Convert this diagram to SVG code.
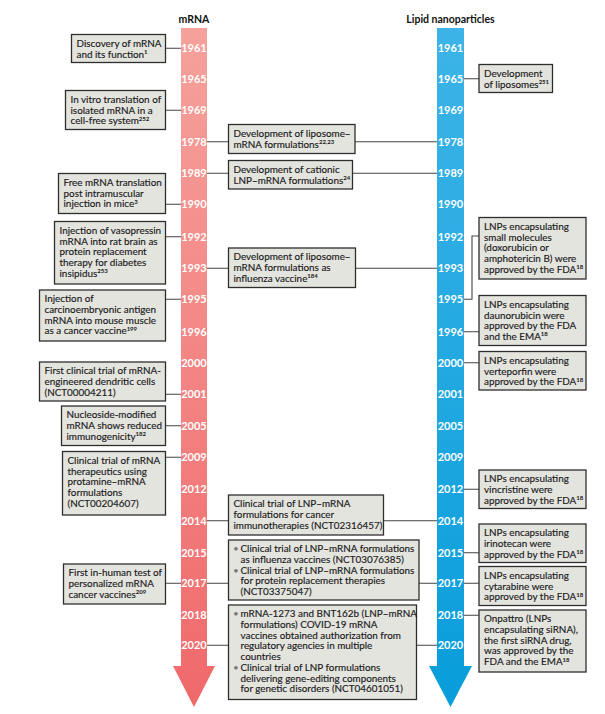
<svg xmlns="http://www.w3.org/2000/svg" width="605" height="714" viewBox="0 0 605 714">
<style>
.box{fill:#e4e4df;stroke:#2e2e2e;stroke-width:1.3}
.t{font-family:Lato,"Noto Sans",sans-serif;font-size:9.9px;fill:#1a1a1a;stroke:#1a1a1a;stroke-width:0.15}
.sup{font-size:6px;font-weight:bold;stroke-width:0}
.bul{fill:#7a7a7a;stroke:none}
.yr{font-family:Lato,"Noto Sans",sans-serif;font-weight:bold;font-size:11px;fill:#fff;text-anchor:middle}
.hd{font-family:Lato,"Noto Sans",sans-serif;font-weight:bold;font-size:10.5px;fill:#111;text-anchor:middle}
.c{stroke:#444;stroke-width:1.1;fill:none}
</style>
<defs>
<linearGradient id="gr" x1="0" y1="0" x2="0" y2="1"><stop offset="0" stop-color="#f6a19c"/><stop offset="1" stop-color="#f0696b"/></linearGradient>
<linearGradient id="gb" x1="0" y1="0" x2="0" y2="1"><stop offset="0" stop-color="#3db4e7"/><stop offset="1" stop-color="#089ddb"/></linearGradient>
</defs>
<rect width="605" height="714" fill="#fff"/>
<text class="hd" x="194" y="23">mRNA</text>
<text class="hd" x="450.5" y="23">Lipid nanoparticles</text>
<g id="bar-mrna"><path d="M181,28 H207 V666 H215 L194,707 L173,666 H181 Z" fill="url(#gr)"/></g>
<g id="bar-lnp"><path d="M437,28 H464 V666 H472 L450.5,707 L429,666 H437 Z" fill="url(#gb)"/></g>
<g id="connectors">
<path class="c" d="M166,48.3H181 M166,110.3H181 M166,204.3H181 M166,236.7H181 M166,299.3H181 M166,394.3H181 M166,425.7H181 M166,457.3H181 M166,583.3H181"/>
<path class="c" d="M207,141.7H228.5 M355,141.7H437 M207,173.3H228.5 M352.5,173.3H437 M207,268.3H228.5 M355.5,268.3H437 M207,520.7H228.5 M383.5,520.7H437 M207,583.3H228.5 M419,583.3H437 M207,645.3H228.5 M416.5,645.3H437"/>
<path class="c" d="M464,78.7H479 M464,299.3H472V236H479 M464,331.7H479 M464,362.7H479 M464,489.3H479 M464,552.7H479 M464,583.3H479 M464,615.3H479"/>
</g>
<g id="years-mrna">
<text class="yr" x="194" y="52.3">1961</text><text class="yr" x="194" y="82.7">1965</text><text class="yr" x="194" y="114.3">1969</text><text class="yr" x="194" y="145.7">1978</text><text class="yr" x="194" y="177.3">1989</text><text class="yr" x="194" y="208.3">1990</text><text class="yr" x="194" y="240.7">1992</text><text class="yr" x="194" y="272.3">1993</text><text class="yr" x="194" y="303.3">1995</text><text class="yr" x="194" y="335.7">1996</text><text class="yr" x="194" y="366.7">2000</text><text class="yr" x="194" y="398.3">2001</text><text class="yr" x="194" y="429.7">2005</text><text class="yr" x="194" y="461.3">2009</text><text class="yr" x="194" y="493.3">2012</text><text class="yr" x="194" y="524.7">2014</text><text class="yr" x="194" y="556.7">2015</text><text class="yr" x="194" y="587.3">2017</text><text class="yr" x="194" y="619.3">2018</text><text class="yr" x="194" y="649.3">2020</text>
</g>
<g id="years-lnp">
<text class="yr" x="450.5" y="52.3">1961</text><text class="yr" x="450.5" y="82.7">1965</text><text class="yr" x="450.5" y="114.3">1969</text><text class="yr" x="450.5" y="145.7">1978</text><text class="yr" x="450.5" y="177.3">1989</text><text class="yr" x="450.5" y="208.3">1990</text><text class="yr" x="450.5" y="240.7">1992</text><text class="yr" x="450.5" y="272.3">1993</text><text class="yr" x="450.5" y="303.3">1995</text><text class="yr" x="450.5" y="335.7">1996</text><text class="yr" x="450.5" y="366.7">2000</text><text class="yr" x="450.5" y="398.3">2001</text><text class="yr" x="450.5" y="429.7">2005</text><text class="yr" x="450.5" y="461.3">2009</text><text class="yr" x="450.5" y="493.3">2012</text><text class="yr" x="450.5" y="524.7">2014</text><text class="yr" x="450.5" y="556.7">2015</text><text class="yr" x="450.5" y="587.3">2017</text><text class="yr" x="450.5" y="619.3">2018</text><text class="yr" x="450.5" y="649.3">2020</text>
</g>
<g id="L1"><rect class="box" x="71.5" y="34.5" width="94" height="28"/><text class="t"><tspan x="76.5" y="46.8">Discovery of mRNA</tspan><tspan x="76.5" y="57.5">and its function</tspan><tspan class="sup" dy="-3.5">1</tspan></text></g>
<g id="L2"><rect class="box" x="65.5" y="90.5" width="100" height="39"/><text class="t"><tspan x="70.5" y="102.8">In vitro translation of</tspan><tspan x="70.5" y="113.5">isolated mRNA in a</tspan><tspan x="70.5" y="124.2">cell-free system</tspan><tspan class="sup" dy="-3.5">252</tspan></text></g>
<g id="L3"><rect class="box" x="58.5" y="173.5" width="107" height="40"/><text class="t"><tspan x="63.5" y="185.8">Free mRNA translation</tspan><tspan x="63.5" y="196.5">post intramuscular</tspan><tspan x="63.5" y="207.2">injection in mice</tspan><tspan class="sup" dy="-3.5">3</tspan></text></g>
<g id="L4"><rect class="box" x="54.5" y="221.5" width="111" height="62.5"/><text class="t"><tspan x="59.5" y="233.8">Injection of vasopressin</tspan><tspan x="59.5" y="244.5">mRNA into rat brain as</tspan><tspan x="59.5" y="255.2">protein replacement</tspan><tspan x="59.5" y="265.9">therapy for diabetes</tspan><tspan x="59.5" y="276.6">insipidus</tspan><tspan class="sup" dy="-3.5">253</tspan></text></g>
<g id="L5"><rect class="box" x="39.5" y="290" width="126" height="51"/><text class="t"><tspan x="44.5" y="302.3">Injection of</tspan><tspan x="44.5" y="313">carcinoembryonic antigen</tspan><tspan x="44.5" y="323.7">mRNA into mouse muscle</tspan><tspan x="44.5" y="334.4">as a cancer vaccine</tspan><tspan class="sup" dy="-3.5">199</tspan></text></g>
<g id="L6"><rect class="box" x="39.5" y="362" width="126" height="39"/><text class="t"><tspan x="44.5" y="374.3">First clinical trial of mRNA-</tspan><tspan x="44.5" y="385">engineered dendritic cells</tspan><tspan x="44.5" y="395.7">(NCT00004211)</tspan></text></g>
<g id="L7"><rect class="box" x="61.5" y="406" width="104" height="39.5"/><text class="t"><tspan x="66.5" y="418.3">Nucleoside-modified</tspan><tspan x="66.5" y="429">mRNA shows reduced</tspan><tspan x="66.5" y="439.7">immunogenicity</tspan><tspan class="sup" dy="-3.5">182</tspan></text></g>
<g id="L8"><rect class="box" x="62.5" y="451.5" width="103" height="63.5"/><text class="t"><tspan x="67.5" y="463.8">Clinical trial of mRNA</tspan><tspan x="67.5" y="474.5">therapeutics using</tspan><tspan x="67.5" y="485.2">protamine–mRNA</tspan><tspan x="67.5" y="495.9">formulations</tspan><tspan x="67.5" y="506.6">(NCT00204607)</tspan></text></g>
<g id="L9"><rect class="box" x="63.5" y="564" width="102" height="40"/><text class="t"><tspan x="68.5" y="576.3">First in-human test of</tspan><tspan x="68.5" y="587">personalized mRNA</tspan><tspan x="68.5" y="597.7">cancer vaccines</tspan><tspan class="sup" dy="-3.5">209</tspan></text></g>
<g id="M1"><rect class="box" x="228.5" y="124.5" width="126.5" height="29"/><text class="t"><tspan x="233.5" y="136.8">Development of liposome–</tspan><tspan x="233.5" y="147.5">mRNA formulations</tspan><tspan class="sup" dy="-3.5">22,23</tspan></text></g>
<g id="M2"><rect class="box" x="228.5" y="160.5" width="124" height="28.5"/><text class="t"><tspan x="233.5" y="172.8">Development of cationic</tspan><tspan x="233.5" y="183.5">LNP–mRNA formulations</tspan><tspan class="sup" dy="-3.5">24</tspan></text></g>
<g id="M3"><rect class="box" x="228.5" y="248" width="127" height="39.5"/><text class="t"><tspan x="233.5" y="260.3">Development of liposome–</tspan><tspan x="233.5" y="271">mRNA formulations as</tspan><tspan x="233.5" y="281.7">influenza vaccine</tspan><tspan class="sup" dy="-3.5">184</tspan></text></g>
<g id="M4"><rect class="box" x="228.5" y="495" width="155" height="40"/><text class="t"><tspan x="233.5" y="507.3">Clinical trial of LNP–mRNA</tspan><tspan x="233.5" y="518">formulations for cancer</tspan><tspan x="233.5" y="528.7">immunotherapies (NCT02316457)</tspan></text></g>
<g id="M5"><rect class="box" x="228.5" y="540" width="190.5" height="60"/><text class="t"><tspan class="bul" x="233" y="552.3">•</tspan><tspan x="240.5" y="552.3">Clinical trial of LNP–mRNA formulations</tspan><tspan x="240.5" y="563">as influenza vaccines (NCT03076385)</tspan><tspan class="bul" x="233" y="573.7">•</tspan><tspan x="240.5" y="573.7">Clinical trial of LNP–mRNA formulations</tspan><tspan x="240.5" y="584.4">for protein replacement therapies</tspan><tspan x="240.5" y="595.1">(NCT03375047)</tspan></text></g>
<g id="M6"><rect class="box" x="228.5" y="605" width="188" height="94.5"/><text class="t"><tspan class="bul" x="233" y="617.3">•</tspan><tspan x="240.5" y="617.3">mRNA-1273 and BNT162b (LNP–mRNA</tspan><tspan x="240.5" y="628">formulations) COVID-19 mRNA</tspan><tspan x="240.5" y="638.7">vaccines obtained authorization from</tspan><tspan x="240.5" y="649.4">regulatory agencies in multiple</tspan><tspan x="240.5" y="660.1">countries</tspan><tspan class="bul" x="233" y="670.8">•</tspan><tspan x="240.5" y="670.8">Clinical trial of LNP formulations</tspan><tspan x="240.5" y="681.5">delivering gene-editing components</tspan><tspan x="240.5" y="692.2">for genetic disorders (NCT04601051)</tspan></text></g>
<g id="R1"><rect class="box" x="479" y="64.5" width="73.5" height="28"/><text class="t"><tspan x="484" y="76.8">Development</tspan><tspan x="484" y="87.5">of liposomes</tspan><tspan class="sup" dy="-3.5">251</tspan></text></g>
<g id="R2"><rect class="box" x="479" y="217.5" width="107" height="61.5"/><text class="t"><tspan x="484" y="229.8">LNPs encapsulating</tspan><tspan x="484" y="240.5">small molecules</tspan><tspan x="484" y="251.2">(doxorubicin or</tspan><tspan x="484" y="261.9">amphotericin B) were</tspan><tspan x="484" y="272.6">approved by the FDA</tspan><tspan class="sup" dy="-3.5">18</tspan></text></g>
<g id="R3"><rect class="box" x="479" y="295.5" width="107" height="50"/><text class="t"><tspan x="484" y="307.8">LNPs encapsulating</tspan><tspan x="484" y="318.5">daunorubicin were</tspan><tspan x="484" y="329.2">approved by the FDA</tspan><tspan x="484" y="339.9">and the EMA</tspan><tspan class="sup" dy="-3.5">18</tspan></text></g>
<g id="R4"><rect class="box" x="479" y="351.5" width="107" height="38.5"/><text class="t"><tspan x="484" y="363.8">LNPs encapsulating</tspan><tspan x="484" y="374.5">verteporfin were</tspan><tspan x="484" y="385.2">approved by the FDA</tspan><tspan class="sup" dy="-3.5">18</tspan></text></g>
<g id="R5"><rect class="box" x="479" y="470" width="107" height="38.5"/><text class="t"><tspan x="484" y="482.3">LNPs encapsulating</tspan><tspan x="484" y="493">vincristine were</tspan><tspan x="484" y="503.7">approved by the FDA</tspan><tspan class="sup" dy="-3.5">18</tspan></text></g>
<g id="R6"><rect class="box" x="479" y="524" width="107" height="38.5"/><text class="t"><tspan x="484" y="536.3">LNPs encapsulating</tspan><tspan x="484" y="547">irinotecan were</tspan><tspan x="484" y="557.7">approved by the FDA</tspan><tspan class="sup" dy="-3.5">18</tspan></text></g>
<g id="R7"><rect class="box" x="479" y="566.5" width="107" height="39"/><text class="t"><tspan x="484" y="578.8">LNPs encapsulating</tspan><tspan x="484" y="589.5">cytarabine were</tspan><tspan x="484" y="600.2">approved by the FDA</tspan><tspan class="sup" dy="-3.5">18</tspan></text></g>
<g id="R8"><rect class="box" x="479" y="610" width="107" height="62"/><text class="t"><tspan x="484" y="622.3">Onpattro (LNPs</tspan><tspan x="484" y="633">encapsulating siRNA),</tspan><tspan x="484" y="643.7">the first siRNA drug,</tspan><tspan x="484" y="654.4">was approved by the</tspan><tspan x="484" y="665.1">FDA and the EMA</tspan><tspan class="sup" dy="-3.5">18</tspan></text></g>
</svg>
